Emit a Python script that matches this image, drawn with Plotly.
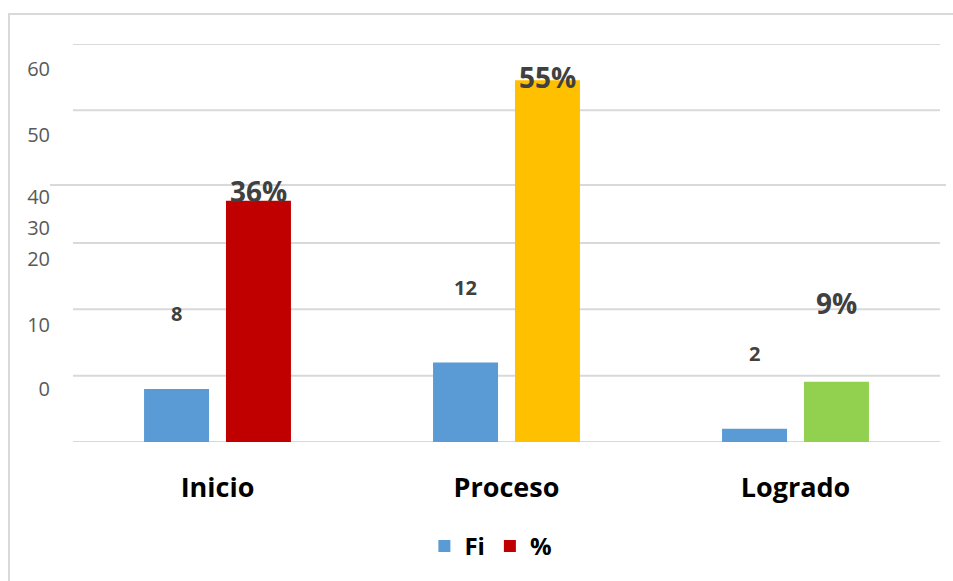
import plotly.graph_objects as go

categories = ["Inicio", "Proceso", "Logrado"]
fi_values = [8, 12, 2]
pct_values = [36.36, 54.55, 9.09]
pct_labels = ["36%", "55%", "9%"]
fi_labels = ["8", "12", "2"]
pct_colors = ["#C00000", "#FFC000", "#92D050"]
fi_color = "#5B9BD5"

# y-axis tick labels as they appear (labels sit offset from the gridlines)
ytick_text = ["0", "10", "20", "30", "40", "50", "60"]
ytick_pos = [8.0, 17.6, 27.6, 32.3, 36.9, 46.3, 56.2]
grid_vals = [0, 10, 20, 30, 50, 60]
stray_grid = 38.75

# per-label vertical offsets (px) for the data labels
fi_shift = [75, 75, 75]
pct_shift = [10, 3, 79]

W, H = 953, 581
L, R, T, B = 73, 13, 44, 139

fig = go.Figure()
fig.add_trace(go.Bar(x=categories, y=fi_values, name="Fi",
                     marker=dict(color=fi_color, line=dict(width=0))))
fig.add_trace(go.Bar(x=categories, y=pct_values, name="%",
                     marker=dict(color=pct_colors, line=dict(width=0))))

ann = []
for i, c in enumerate(categories):
    ann.append(dict(x=c, y=fi_values[i], xref="x", yref="y", text=fi_labels[i],
                    showarrow=False, xshift=-41, yshift=fi_shift[i], yanchor="middle",
                    font=dict(family="Open Sans", size=20, color="#404040", weight="bold")))
    ann.append(dict(x=c, y=pct_values[i], xref="x", yref="y", text=pct_labels[i],
                    showarrow=False, xshift=41, yshift=pct_shift[i], yanchor="middle",
                    font=dict(family="Open Sans", size=28, color="#404040", weight="bold")))

shapes = []
for g in grid_vals:
    shapes.append(dict(type="line", xref="paper", yref="y", x0=0, x1=1, y0=g, y1=g,
                       line=dict(color="#D9D9D9", width=2), layer="below"))
shapes.append(dict(type="line", xref="paper", yref="y", x0=(50 - L) / 867, x1=(946 - L) / 867,
                   y0=stray_grid, y1=stray_grid, line=dict(color="#D9D9D9", width=2), layer="below"))
# outer chart border
shapes.append(dict(type="rect", xref="paper", yref="paper",
                   x0=(9 - L) / 867, x1=1.2, y0=-0.5, y1=(442 - 14) / 398,
                   line=dict(color="#D9D9D9", width=2), fillcolor="rgba(0,0,0,0)", layer="below"))

fig.update_layout(
    width=W, height=H,
    margin=dict(l=L, r=R, t=T, b=B),
    paper_bgcolor="white", plot_bgcolor="white",
    barmode="group", bargap=0.433, bargroupgap=0.207,
    showlegend=True,
    legend=dict(orientation="h", x=0.482, xanchor="center", y=-0.262, yanchor="middle",
                font=dict(family="Open Sans", size=24, color="#000000", weight="bold"),
                itemwidth=30, traceorder="normal"),
    xaxis=dict(showgrid=False, zeroline=False, showline=False, ticks="",
               tickfont=dict(family="Open Sans", size=27, color="#000000", weight="bold"),
               ticklabelstandoff=27),
    yaxis=dict(range=[0, 60], showgrid=False, zeroline=False, showline=False,
               tickmode="array", tickvals=ytick_pos, ticktext=ytick_text,
               tickfont=dict(family="Open Sans", size=20, color="#595959"),
               ticks="", ticklabelstandoff=22),
    annotations=ann, shapes=shapes,
)

fig.write_html("out.html", config={"displayModeBar": False},
               post_script="document.body.style.margin='0';document.body.style.overflow='hidden';")
